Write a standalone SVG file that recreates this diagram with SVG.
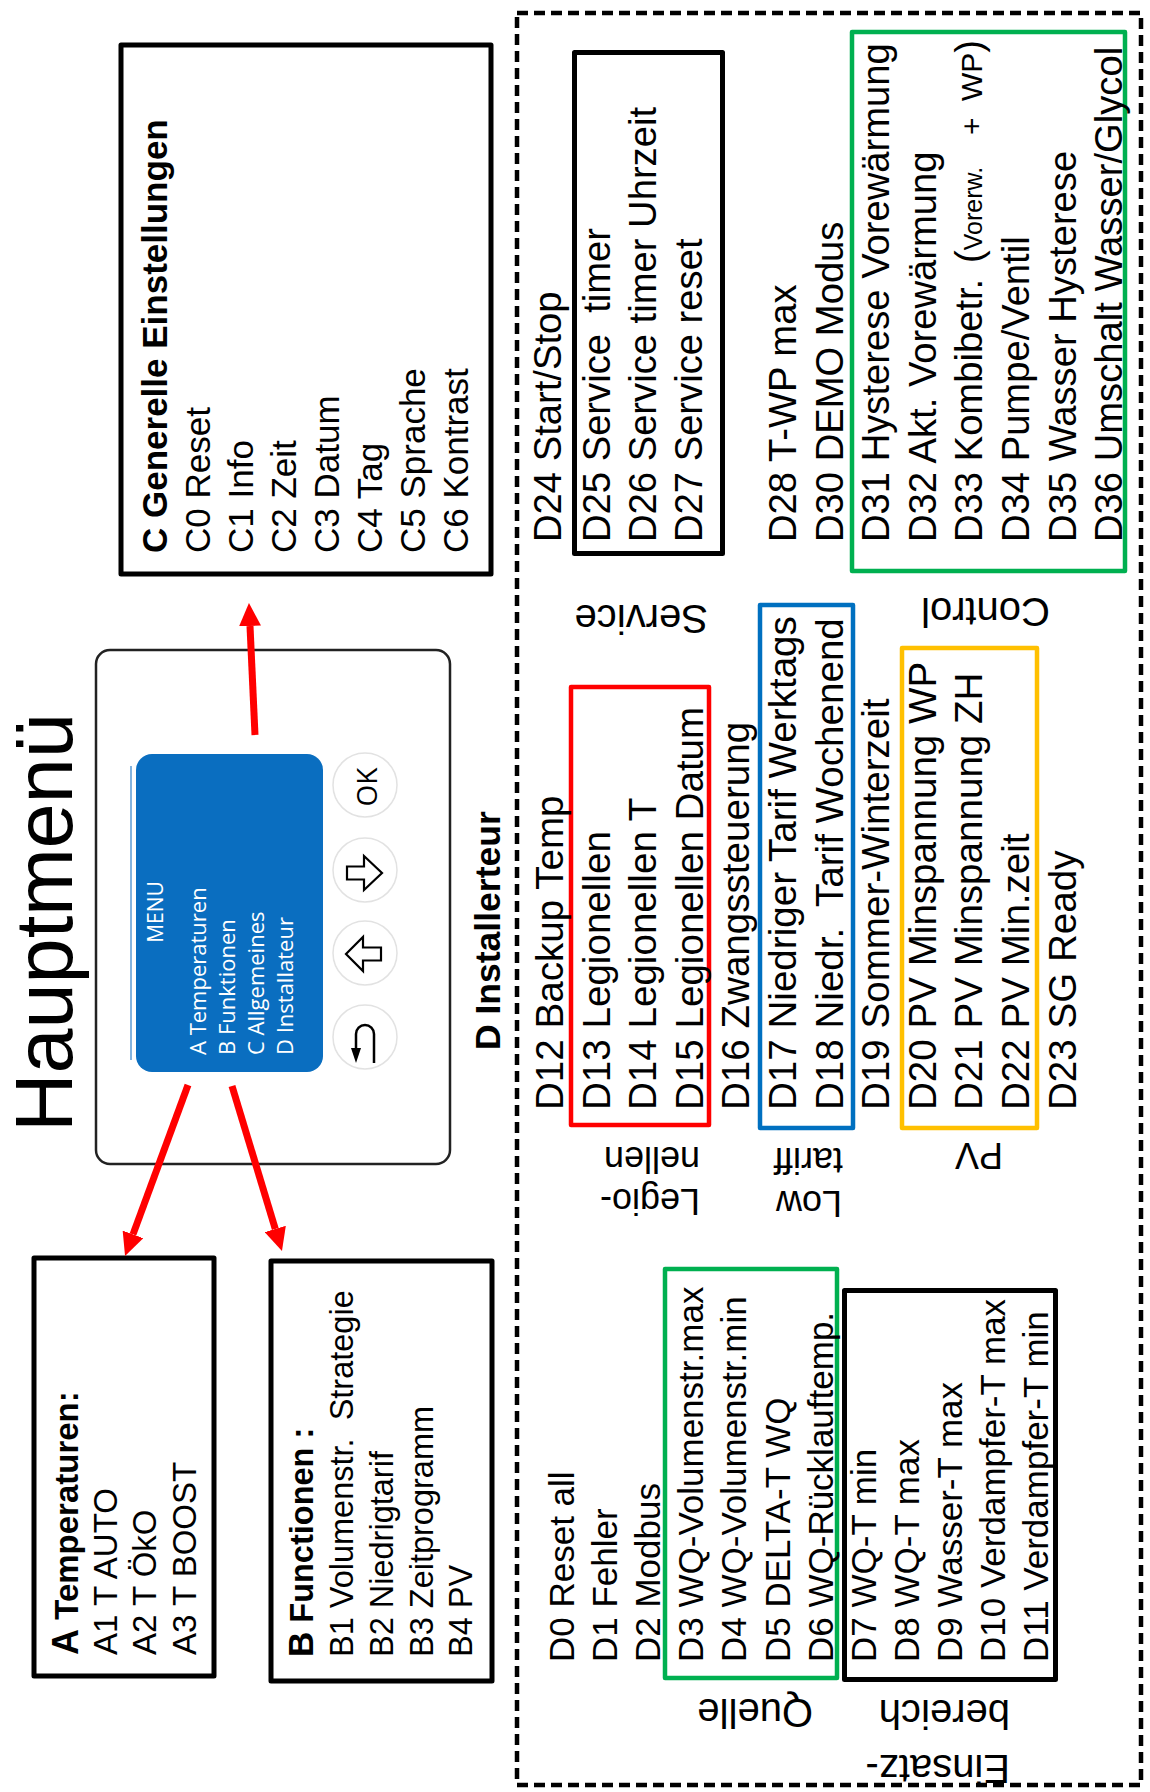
<svg xmlns="http://www.w3.org/2000/svg" width="1150" height="1792" viewBox="0 0 1150 1792">
<style>
text{font-family:"Liberation Sans",Arial,sans-serif;fill:#000}
.bold{font-weight:bold}
.scr{font-family:"Open Sans","Noto Sans",sans-serif;fill:#fff}
.box{fill:none;stroke:#000;stroke-width:5;stroke-linejoin:round}
.cbox{fill:none;stroke-width:4.5;stroke-linejoin:round}
.btn{fill:#fff;stroke:#e2e2e2;stroke-width:1.5}
.ico{fill:#fff;stroke:#000;stroke-width:2.2;stroke-linejoin:miter}
.conn{stroke:#ff0000;stroke-width:7;fill:none;marker-end:url(#ah)}
</style>
<defs>
<marker id="ah" markerUnits="userSpaceOnUse" markerWidth="23" markerHeight="22" viewBox="0 0 23 22" refX="0" refY="11" orient="auto"><path d="M0,0 L23,11 L0,22 z" fill="#ff0000"/></marker>
</defs>
<rect width="1150" height="1792" fill="#fff"/>

<g id="title"><text transform="translate(72,1132) rotate(-90)" font-size="81">Hauptmenü</text></g>

<g id="device">
<rect x="96" y="650" width="354" height="514" rx="14" fill="#fff" stroke="#222" stroke-width="2.5"/>
<line x1="131" y1="766" x2="131" y2="1060" stroke="#5B9BD5" stroke-width="1.5"/>
<rect x="136" y="754" width="187" height="318" rx="16" fill="#0A6EC0"/>
<g transform="translate(0,1055) rotate(-90)">
<text class="scr" x="143" y="163" font-size="21" text-anchor="middle">MENU</text>
<text class="scr" x="0" y="206" font-size="22">A Temperaturen</text>
<text class="scr" x="0" y="235" font-size="22">B Funktionen</text>
<text class="scr" x="0" y="264" font-size="22">C Allgemeines</text>
<text class="scr" x="0" y="293" font-size="22">D Installateur</text>
</g>
<circle class="btn" cx="365" cy="785" r="32"/>
<circle class="btn" cx="365" cy="870" r="32"/>
<circle class="btn" cx="365" cy="953" r="32"/>
<circle class="btn" cx="365" cy="1037" r="32"/>
<text transform="translate(377,787) rotate(-90)" font-size="28" text-anchor="middle" style="font-family:'Open Sans',sans-serif">OK</text>
<polygon class="ico" points="347,866.5 364,866.5 364,856 382,873 364,890 364,879.5 347,879.5"/>
<polygon class="ico" points="346,954 363,937 363,947.5 381,947.5 381,960.5 363,960.5 363,971"/>
<path d="M374,1063 V1034 A9,9 0 0 0 356,1034 V1049" fill="none" stroke="#000" stroke-width="2.5"/>
<polygon points="351,1048 361,1048 356,1063" fill="#000"/>
</g>

<g id="nodeA">
<rect class="box" x="34" y="1258" width="180" height="418" stroke-width="6"/>
<g transform="translate(0,1655) rotate(-90)" font-size="33">
<text class="bold" x="0" y="78"><tspan font-size="36">A</tspan> Temperaturen:</text>
<text x="0" y="117">A1 T AUTO</text>
<text x="0" y="156">A2 T ÖkO</text>
<text x="0" y="196">A3 T BOOST</text>
</g>
</g>

<g id="nodeB">
<rect class="box" x="271" y="1261" width="221" height="420" stroke-width="6"/>
<g transform="translate(0,1657) rotate(-90)" font-size="32.5">
<text class="bold" x="0" y="313"><tspan font-size="35">B</tspan> Functionen :</text>
<text x="0" y="353">B1 Volumenstr.&#160; Strategie</text>
<text x="0" y="393">B2 Niedrigtarif</text>
<text x="0" y="433">B3 Zeitprogramm</text>
<text x="0" y="472">B4 PV</text>
</g>
</g>

<g id="nodeC">
<rect class="box" x="121" y="45" width="370" height="529" stroke-width="6"/>
<g transform="translate(0,553) rotate(-90)" font-size="35">
<text class="bold" x="0" y="167">C Generelle Einstellungen</text>
<text x="0" y="210">C0 Reset</text>
<text x="0" y="253">C1 Info</text>
<text x="0" y="296">C2 Zeit</text>
<text x="0" y="339">C3 Datum</text>
<text x="0" y="382">C4 Tag</text>
<text x="0" y="425">C5 Sprache</text>
<text x="0" y="468">C6 Kontrast</text>
</g>
</g>

<g id="nodeD">
<rect x="517" y="13" width="624" height="1772" fill="none" stroke="#000" stroke-width="4.5" stroke-dasharray="11 6"/>
<text class="bold" transform="translate(500,1050) rotate(-90)" font-size="35.5">D Installerteur</text>

<g id="D-boxes">
<rect class="cbox" x="665" y="1269" width="172" height="409" stroke="#00B050"/>
<rect class="box" x="844.5" y="1290.5" width="211" height="389"/>
<rect class="cbox" x="571" y="687" width="138" height="438" stroke="#FF0000"/>
<rect class="cbox" x="760" y="605" width="93" height="523" stroke="#0070C0"/>
<rect class="cbox" x="902" y="648" width="135" height="480" stroke="#FFC000"/>
<rect class="box" x="574.5" y="52.5" width="148" height="501"/>
<rect class="cbox" x="852" y="32" width="273" height="539" stroke="#00B050"/>
</g>

<g id="D-col1" transform="translate(0,1662) rotate(-90)" font-size="35">
<text x="0" y="574">D0 Reset all</text>
<text x="0" y="617">D1 Fehler</text>
<text x="0" y="660">D2 Modbus</text>
<text x="0" y="703">D3 WQ-Volumenstr.max</text>
<text x="0" y="746">D4 WQ-Volumenstr.min</text>
<text x="0" y="790">D5 DELTA-T WQ</text>
<text x="0" y="833">D6 WQ-Rücklauftemp.</text>
<text x="0" y="876">D7 WQ-T min</text>
<text x="0" y="919">D8 WQ-T max</text>
<text x="0" y="962">D9 Wasser-T max</text>
<text x="0" y="1005">D10 Verdampfer-T max</text>
<text x="0" y="1048">D11 Verdampfer-T min</text>
</g>

<g id="D-col2" transform="translate(0,1110) rotate(-90)" font-size="38.6">
<text x="0" y="563">D12 Backup Temp</text>
<text x="0" y="610">D13 Legionellen</text>
<text x="0" y="656">D14 Legionellen T</text>
<text x="0" y="703">D15 Legionellen Datum</text>
<text x="0" y="749">D16 Zwangssteuerung</text>
<text x="0" y="796">D17 Niedriger Tarif Werktags</text>
<text x="0" y="843">D18 Niedr.&#160; Tarif Wochenend</text>
<text x="0" y="889">D19 Sommer-Winterzeit</text>
<text x="0" y="936">D20 PV Minspannung WP</text>
<text x="0" y="982">D21 PV Minspannung ZH</text>
<text x="0" y="1029">D22 PV Min.zeit</text>
<text x="0" y="1076">D23 SG Ready</text>
</g>

<g id="D-col3" transform="translate(0,542) rotate(-90)" font-size="38.2">
<text x="0" y="561">D24 Start/Stop</text>
<text x="0" y="610">D25 Service&#160; timer</text>
<text x="0" y="656">D26 Service timer Uhrzeit</text>
<text x="0" y="702">D27 Service reset</text>
<text x="0" y="796">D28 T-WP max</text>
<text x="0" y="843">D30 DEMO Modus</text>
<text x="0" y="889">D31 Hysterese Vorewärmung</text>
<text x="0" y="936">D32 Akt. Vorewärmung</text>
<text x="0" y="982">D33 Kombibetr. <tspan x="279">(</tspan><tspan font-size="25">Vorerw.</tspan><tspan x="407" font-size="30">+</tspan><tspan x="441" font-size="30">WP</tspan>)</text>
<text x="0" y="1029">D34 Pumpe/Ventil</text>
<text x="0" y="1076">D35 Wasser Hysterese</text>
<text x="0" y="1122">D36 Umschalt Wasser/Glycol</text>
</g>

<g id="D-labels">
<text transform="translate(708,605) rotate(180)" font-size="40">Service</text>
<text transform="translate(1050,598) rotate(180)" font-size="40">Control</text>
<text transform="translate(700,1189) rotate(180)" font-size="36">Legio-</text>
<text transform="translate(700,1147) rotate(180)" font-size="36">nellen</text>
<text transform="translate(842,1191) rotate(180)" font-size="36">Low</text>
<text transform="translate(843,1148) rotate(180)" font-size="36">tariff</text>
<text transform="translate(1003,1143) rotate(180)" font-size="36">PV</text>
<text transform="translate(813,1699) rotate(180)" font-size="40">Quelle</text>
<text transform="translate(1010,1755) rotate(180)" font-size="40">Einsatz-</text>
<text transform="translate(1010,1700) rotate(180)" font-size="40">bereich</text>
</g>
</g>

<g id="connectors">
<path class="conn" d="M255,735 L250,626"/>
<path class="conn" d="M188,1085 L133,1234.4"/>
<path class="conn" d="M232,1086 L275.3,1229"/>
</g>
</svg>
